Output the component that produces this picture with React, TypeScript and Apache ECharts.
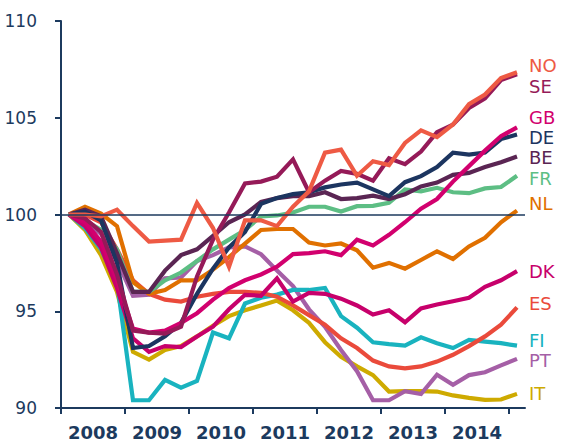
import { useEffect, useRef } from 'react';
import * as echarts from 'echarts';

// Quarterly index, 2008 Q1 = 100
const quarters = [
  '2008Q1', '2008Q2', '2008Q3', '2008Q4',
  '2009Q1', '2009Q2', '2009Q3', '2009Q4',
  '2010Q1', '2010Q2', '2010Q3', '2010Q4',
  '2011Q1', '2011Q2', '2011Q3', '2011Q4',
  '2012Q1', '2012Q2', '2012Q3', '2012Q4',
  '2013Q1', '2013Q2', '2013Q3', '2013Q4',
  '2014Q1', '2014Q2', '2014Q3', '2014Q4',
  '2015Q1',
];
const years = ['2008', '2009', '2010', '2011', '2012', '2013', '2014'];
const yTicks = [90, 95, 100, 105, 110];

const NO = [100, 100.0, 99.9, 100.25, 99.4, 98.6, 98.65, 98.7, 100.6, 99.3, 97.3, 99.7, 99.7, 99.4, 100.4, 101.2, 103.2, 103.35, 102.0, 102.75, 102.55, 103.7, 104.35, 104.0, 104.65, 105.7, 106.2, 107.05, 107.35];
const SE = [100, 99.8, 99.1, 96.9, 94.0, 93.9, 93.85, 94.2, 96.8, 98.7, 100.1, 101.6, 101.7, 101.95, 102.85, 101.15, 101.75, 102.25, 102.1, 101.75, 102.9, 102.6, 103.25, 104.25, 104.65, 105.5, 106.0, 106.95, 107.25];
const GB = [100, 99.6, 98.6, 96.6, 94.1, 93.9, 94.0, 94.4, 94.9, 95.6, 96.2, 96.6, 96.9, 97.3, 97.95, 98.0, 98.1, 97.9, 98.7, 98.4, 98.95, 99.6, 100.3, 100.8, 101.7, 102.5, 103.3, 104.05, 104.5];
const DE = [100, 100.15, 99.7, 97.5, 93.1, 93.2, 93.7, 94.4, 95.9, 97.2, 98.3, 99.1, 100.55, 100.85, 101.05, 101.15, 101.4, 101.55, 101.65, 101.3, 100.95, 101.67, 101.98, 102.45, 103.2, 103.1, 103.2, 103.9, 104.13];
const BE = [100, 100.25, 99.9, 98.0, 96.0, 96.0, 97.1, 97.9, 98.2, 98.9, 99.6, 100.0, 100.65, 100.85, 100.95, 100.95, 101.15, 100.8, 100.85, 100.97, 100.8, 101.05, 101.45, 101.65, 102.05, 102.15, 102.45, 102.7, 103.0];
const FR = [100, 99.7, 99.2, 98.2, 96.0, 96.0, 96.6, 97.0, 97.6, 98.2, 98.7, 99.2, 99.9, 99.95, 100.1, 100.4, 100.4, 100.15, 100.43, 100.45, 100.6, 101.3, 101.2, 101.38, 101.15, 101.1, 101.35, 101.42, 102.0];
const NL = [100, 100.4, 100.05, 99.4, 96.5, 95.9, 96.1, 96.6, 96.6, 97.15, 97.8, 98.5, 99.2, 99.25, 99.25, 98.55, 98.4, 98.5, 98.15, 97.25, 97.5, 97.2, 97.65, 98.1, 97.7, 98.35, 98.8, 99.6, 100.2];
const DK = [100, 99.4, 98.3, 96.2, 93.6, 92.9, 93.2, 93.15, 93.7, 94.2, 95.1, 95.85, 95.8, 96.7, 95.5, 95.95, 95.9, 95.65, 95.3, 94.83, 95.05, 94.43, 95.15, 95.35, 95.52, 95.7, 96.26, 96.6, 97.07];
const ES = [100, 100.0, 99.6, 98.2, 96.6, 95.9, 95.6, 95.5, 95.75, 95.9, 96.0, 96.0, 95.95, 95.75, 95.3, 94.8, 94.3, 93.6, 93.1, 92.45, 92.15, 92.05, 92.15, 92.4, 92.75, 93.2, 93.7, 94.3, 95.2];
const FI = [100, 99.3, 98.2, 96.5, 90.4, 90.4, 91.45, 91.05, 91.4, 93.9, 93.6, 95.4, 95.7, 95.86, 96.1, 96.1, 96.2, 94.75, 94.15, 93.4, 93.3, 93.22, 93.65, 93.35, 93.1, 93.52, 93.43, 93.35, 93.22];
const PT = [100, 99.6, 99.0, 97.6, 95.8, 95.85, 96.7, 96.75, 97.6, 97.9, 98.3, 98.35, 97.95, 97.1, 96.3, 95.1, 94.2, 93.0, 91.9, 90.4, 90.4, 90.87, 90.72, 91.72, 91.2, 91.7, 91.85, 92.2, 92.54];
const IT = [100, 99.2, 97.9, 96.0, 92.9, 92.5, 93.0, 93.2, 93.7, 94.25, 94.75, 95.05, 95.3, 95.55, 95.05, 94.4, 93.4, 92.65, 92.15, 91.7, 90.85, 90.87, 90.87, 90.85, 90.65, 90.52, 90.42, 90.44, 90.73];

const NAVY = '#1C3A5E';
const FONT = '"DejaVu Sans", sans-serif';

// draw order (first = bottom); label pixel positions on the right
const seriesDefs = [
  { name: 'IT', data: IT, color: '#CEAA00', labelY: 393 },
  { name: 'PT', data: PT, color: '#A55FA6', labelY: 360 },
  { name: 'FI', data: FI, color: '#19B3BF', labelY: 340 },
  { name: 'ES', data: ES, color: '#EA4A3B', labelY: 303 },
  { name: 'DK', data: DK, color: '#C7006B', labelY: 271 },
  { name: 'NL', data: NL, color: '#E07000', labelY: 203 },
  { name: 'FR', data: FR, color: '#5DBE84', labelY: 178 },
  { name: 'BE', data: BE, color: '#5A2553', labelY: 157.8 },
  { name: 'DE', data: DE, color: '#1C3560', labelY: 137.6 },
  { name: 'GB', data: GB, color: '#D2006E', labelY: 117.4 },
  { name: 'SE', data: SE, color: '#951A58', labelY: 86 },
  { name: 'NO', data: NO, color: '#EE5A44', labelY: 65.5 },
];

export default function App() {
  const ref = useRef<HTMLDivElement>(null);
  useEffect(() => {
    const chart = echarts.init(ref.current!, null, { renderer: 'svg' });
    const series: any[] = seriesDefs.map((s) => ({
      name: s.name,
      type: 'line',
      data: s.data.map((v, i) => [i + 0.5, v]),
      showSymbol: false,
      symbol: 'none',
      lineStyle: { width: 4.2, color: s.color, join: 'miter', cap: 'butt' },
      itemStyle: { color: s.color },
      emphasis: { disabled: true },
      silent: true,
    }));
    series.push({
      name: 'base',
      type: 'line',
      data: [],
      silent: true,
      markLine: {
        silent: true,
        symbol: ['none', 'none'],
        label: { show: false },
        lineStyle: { color: NAVY, width: 1.6, type: 'solid' },
        data: [{ yAxis: 100 }],
      },
      z: 1,
    });
    const nQ = quarters.length;
    const tickVals = years.map((_, k) => k * 4).concat([years.length * 4]);
    const labelVals = years.map((_, k) => k * 4 + 2);
    const option: any = {
      animation: false,
      grid: { left: 61, top: 21, width: 464, height: 387 },
      xAxis: {
        type: 'value',
        min: 0,
        max: nQ,
        axisLine: { show: true, lineStyle: { color: NAVY, width: 2 } },
        axisTick: { show: true, length: 6, lineStyle: { color: NAVY, width: 2 }, customValues: tickVals },
        axisLabel: {
          show: true,
          customValues: labelVals,
          formatter: (v: number) => years[Math.round((v - 2) / 4)] ?? '',
          color: NAVY,
          fontFamily: FONT,
          fontWeight: 'bold',
          fontSize: 18,
          margin: 15,
        },
        splitLine: { show: false },
      },
      yAxis: {
        type: 'value',
        min: yTicks[0],
        max: yTicks[yTicks.length - 1],
        interval: 5,
        axisLine: { show: true, lineStyle: { color: NAVY, width: 2 } },
        axisTick: { show: true, length: 6, lineStyle: { color: NAVY, width: 2 } },
        axisLabel: { color: NAVY, fontFamily: FONT, fontSize: 17, margin: 24 },
        splitLine: { show: false },
      },
      graphic: seriesDefs.map((s) => ({
        type: 'text',
        x: 529,
        y: s.labelY,
        silent: true,
        style: {
          text: s.name,
          fill: s.color,
          font: `18px ${FONT}`,
          lineHeight: 16,
          textVerticalAlign: 'middle',
          verticalAlign: 'middle',
          textAlign: 'left',
        },
      })),
      series,
    };
    chart.setOption(option);
    return () => chart.dispose();
  }, []);
  return (
    <div
      ref={ref}
      style={{ position: 'absolute', left: 0, top: 0, width: 562, height: 441, background: '#fff' }}
    />
  );
}
